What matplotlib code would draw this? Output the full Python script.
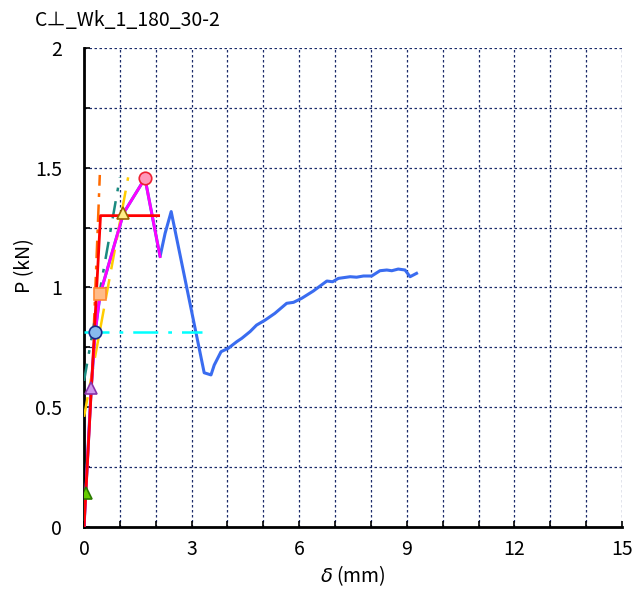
"""
Load-slip curve chart (C-perp Wk specimen)
"""
import matplotlib
matplotlib.use('Agg')
import matplotlib.pyplot as plt
from matplotlib.ticker import MultipleLocator

plt.rcParams['font.family'] = ['Noto Sans CJK JP', 'DejaVu Sans']

# measured load-slip curve
curve_x = [0.0, 0.2, 0.31, 0.45, 1.1, 1.7, 2.12, 2.26, 2.43, 3.35, 3.54, 3.63, 3.82, 4.02,
           4.26, 4.40, 4.63, 4.81, 5.05, 5.32, 5.65, 5.84, 6.07, 6.39, 6.58, 6.77, 6.93,
           7.09, 7.42, 7.60, 7.79, 8.02, 8.25, 8.44, 8.58, 8.76, 8.95, 9.09, 9.27]
curve_y = [0.0, 0.58, 0.813, 0.973, 1.31, 1.456, 1.129, 1.226, 1.317, 0.644, 0.635, 0.676,
           0.732, 0.746, 0.774, 0.788, 0.816, 0.843, 0.864, 0.892, 0.934, 0.938, 0.955,
           0.985, 1.006, 1.027, 1.024, 1.038, 1.045, 1.043, 1.048, 1.048, 1.070, 1.073,
           1.070, 1.077, 1.073, 1.045, 1.059]

# envelope up to max load
env_x = [0.0, 0.2, 0.31, 0.45, 1.1, 1.7, 2.12]
env_y = [0.0, 0.58, 0.813, 0.973, 1.31, 1.456, 1.129]

# bilinear model
bil_x = [0.0, 0.46, 2.08]
bil_y = [0.0, 1.30, 1.30]

# auxiliary lines
yield_x = [0.0, 3.30]
yield_y = [0.813, 0.813]
line1_x = [0.27, 0.44]
line1_y = [0.82, 1.47]
line2_x = [0.0, 1.0]
line2_y = [0.61, 1.46]
line3_x = [0.0, 1.23]
line3_y = [0.46, 1.46]

# characteristic points
pts = {
    '0.1Pmax': (0.06, 0.143, '^', '#66cc00', '#2a7a00'),
    '0.4Pmax': (0.20, 0.579, '^', '#cc99ee', '#8833aa'),
    'Py': (0.31, 0.813, 'o', '#88bbee', '#1a2a88'),
    'Pu': (0.45, 0.973, 's', '#ffbb88', '#ff8833'),
    '0.9Pmax': (1.10, 1.31, '^', '#ffee88', '#996600'),
    'Pmax': (1.70, 1.456, 'o', '#ff99bb', '#ee2233'),
}

fig = plt.figure(figsize=(6.38, 5.94), dpi=100)
ax = fig.add_axes([0.1317, 0.1128, 0.8433, 0.8064])

ax.plot(curve_x, curve_y, color='#3a6cf0', linewidth=2.2, zorder=3)
ax.plot(yield_x, yield_y, color='#00ffff', linewidth=1.8, dashes=[10, 4, 1.5, 4], zorder=3)
ax.plot(line1_x, line1_y, color='#ff6a00', linewidth=1.8, dashes=[7, 3, 1.5, 3], zorder=3)
ax.plot(line2_x, line2_y, color='#1a8a80', linewidth=1.8, dashes=[7, 4, 1.5, 4], zorder=3)
ax.plot(line3_x, line3_y, color='#ffcc00', linewidth=1.8, dashes=[8, 4], zorder=3)
ax.plot(env_x, env_y, color='#ff00ff', linewidth=2, zorder=4)
ax.plot(bil_x, bil_y, color='#ff0000', linewidth=2, zorder=5)

for name, (px, py, mk, fc, ec) in pts.items():
    ax.plot(px, py, marker=mk, markersize=9, markerfacecolor=fc, markeredgecolor=ec,
            markeredgewidth=1.2, linestyle='none', zorder=6)

ax.set_xlim(0, 15)
ax.set_ylim(0, 2)
ax.xaxis.set_major_locator(MultipleLocator(3))
ax.xaxis.set_minor_locator(MultipleLocator(1))
ax.yaxis.set_major_locator(MultipleLocator(0.5))
ax.yaxis.set_minor_locator(MultipleLocator(0.25))
ax.yaxis.set_major_formatter(plt.FuncFormatter(lambda v, p: f'{v:g}'))
ax.grid(which='both', color='#1a2a6a', linestyle=(0, (2, 2)), linewidth=0.9)
ax.set_axisbelow(True)

for s in ['top', 'right']:
    ax.spines[s].set_visible(False)
for s in ['left', 'bottom']:
    ax.spines[s].set_linewidth(2)
ax.tick_params(which='both', direction='in', length=4, width=1.2, labelsize=14)
ax.tick_params(axis='y', pad=16)
ax.tick_params(axis='x', pad=9)

ax.set_xlabel(r'$\delta$ (mm)', fontsize=14, labelpad=2)
ax.set_ylabel('P (kN)', fontsize=14)
ax.yaxis.set_label_coords(-0.09, 0.545)
fig.text(0.055, 0.965, 'C⊥_Wk_1_180_30-2', fontsize=14, ha='left', va='center')

fig.savefig('out.png', dpi=100)
plt.close(fig)
